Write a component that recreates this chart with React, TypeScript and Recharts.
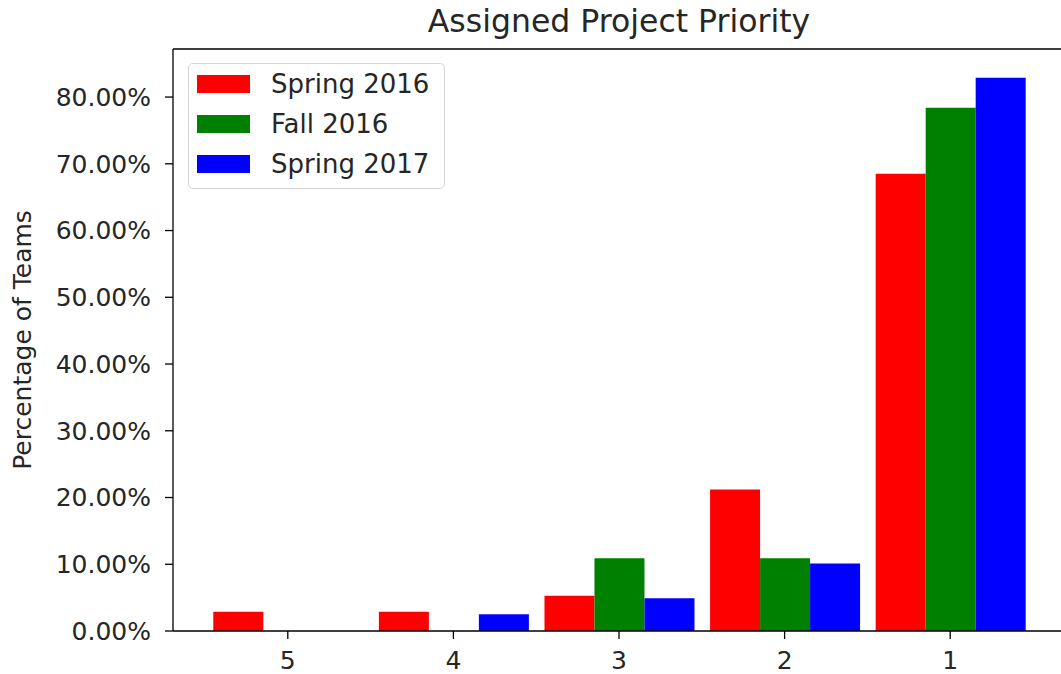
import { BarChart, Bar, XAxis, YAxis, ReferenceLine, Label } from 'recharts'

const categories = ['5', '4', '3', '2', '1']
const spring2016 = [2.9, 2.9, 5.3, 21.2, 68.5]
const fall2016 = [0, 0, 10.9, 10.9, 78.4]
const spring2017 = [0, 2.5, 4.9, 10.1, 82.9]
const yTicks = [0, 10, 20, 30, 40, 50, 60, 70, 80]
const yMax = 87.2

const series = [
  { key: 'spring2016', name: 'Spring 2016', color: '#ff0000' },
  { key: 'fall2016', name: 'Fall 2016', color: '#008000' },
  { key: 'spring2017', name: 'Spring 2017', color: '#0000ff' },
]

const data = categories.map((c, i) => ({
  priority: c,
  spring2016: spring2016[i],
  fall2016: fall2016[i],
  spring2017: spring2017[i],
}))

const FONT = '"DejaVu Sans", sans-serif'
const TXT = '#262626'

// legend drawn as an overlay so it doesn't eat chart space
function LegendBox() {
  return (
    <div
      style={{
        position: 'absolute',
        left: 188,
        top: 63,
        width: 257,
        height: 126,
        border: '1px solid #d6d6d6',
        borderRadius: 5,
        background: 'rgba(255,255,255,0.8)',
        boxSizing: 'border-box',
      }}
    >
      {series.map((s, i) => (
        <div key={s.key} style={{ position: 'absolute', left: 0, top: 11 + i * 40, height: 19, width: '100%' }}>
          <div style={{ position: 'absolute', left: 8, top: 0, width: 53, height: 18, background: s.color }} />
          <div
            style={{
              position: 'absolute',
              left: 82,
              top: -5,
              fontSize: 26,
              lineHeight: '28px',
              color: TXT,
              whiteSpace: 'nowrap',
            }}
          >
            {s.name}
          </div>
        </div>
      ))}
    </div>
  )
}

export default function App() {
  return (
    <div style={{ position: 'absolute', left: 0, top: 0, width: 1061, height: 674, overflow: 'hidden', background: '#fff', fontFamily: FONT }}>
      <div
        style={{
          position: 'absolute',
          left: 173,
          width: 892,
          top: 4,
          textAlign: 'center',
          fontSize: 31.5,
          lineHeight: '34px',
          color: TXT,
        }}
      >
        Assigned Project Priority
      </div>
      <BarChart
        width={1066}
        height={674}
        data={data}
        margin={{ top: 49, right: 1, bottom: 0, left: 0 }}
        barCategoryGap="5%"
        barGap={0}
      >
        <XAxis
          dataKey="priority"
          height={43}
          padding={{ left: 32, right: 32 }}
          tickSize={8}
          tickMargin={12}
          axisLine={{ stroke: '#000', strokeWidth: 1.3 }}
          tickLine={{ stroke: '#000', strokeWidth: 1.3 }}
          tick={{ fontSize: 25, fill: TXT, fontFamily: FONT }}
        />
        <YAxis
          width={173}
          domain={[0, yMax]}
          ticks={yTicks}
          tickFormatter={(v: number) => `${v.toFixed(2)}%`}
          tickSize={8}
          tickMargin={14}
          axisLine={{ stroke: '#000', strokeWidth: 1.3 }}
          tickLine={{ stroke: '#000', strokeWidth: 1.3 }}
          tick={{ fontSize: 25, fill: TXT, fontFamily: FONT }}
          allowDataOverflow
        >
          <Label
            content={({ viewBox }: any) => {
              const cy = viewBox.y + viewBox.height / 2
              return (
                <text
                  x={31}
                  y={cy}
                  transform={`rotate(-90, 31, ${cy})`}
                  textAnchor="middle"
                  fontSize={25}
                  fill={TXT}
                  fontFamily={FONT}
                >
                  Percentage of Teams
                </text>
              )
            }}
          />
        </YAxis>
        <ReferenceLine y={yMax} stroke="#000" strokeWidth={1.3} />
        {series.map(s => (
          <Bar key={s.key} dataKey={s.key} name={s.name} fill={s.color} isAnimationActive={false} />
        ))}
      </BarChart>
      <LegendBox />
    </div>
  )
}
